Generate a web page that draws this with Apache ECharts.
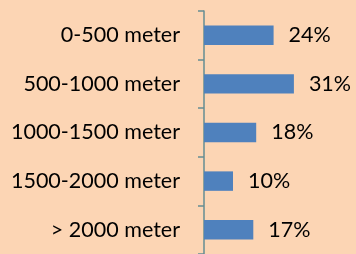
<!DOCTYPE html>
<html>
<head>
<meta charset="utf-8">
<script src="https://cdn.jsdelivr.net/npm/echarts@6/dist/echarts.min.js"></script>
<style>
  html, body { margin: 0; padding: 0; background: #FCD5B4; }
  #chart { width: 356px; height: 254px; }
</style>
</head>
<body>
<div id="chart"></div>
<script>
const categories = ['0-500 meter', '500-1000 meter', '1000-1500 meter', '1500-2000 meter', '> 2000 meter'];
const shares = [24, 31, 18, 10, 17];

// 基于准备好的dom，初始化echarts实例
const myChart = echarts.init(document.getElementById('chart'));
const textFont = 'Lato';

myChart.setOption({
    backgroundColor: '#FCD5B4',
    animation: false,
    grid: { left: 204, top: 11, height: 248, right: 7 },
    xAxis: {
        type: 'value',
        min: 0,
        max: 50,
        show: false
    },
    yAxis: {
        type: 'category',
        inverse: true,
        data: categories,
        axisLine: { lineStyle: { color: '#658D93', width: 1.5 } },
        axisTick: { show: true, length: 6, lineStyle: { color: '#658D93', width: 1.5 } },
        axisLabel: { margin: 24, color: '#000', fontSize: 21.5, fontFamily: textFont }
    },
    series: [{
        type: 'bar',
        data: shares,
        barCategoryGap: '60%',
        itemStyle: { color: '#4F81BD' },
        label: {
            show: true,
            position: 'right',
            distance: 15,
            formatter: '{c}%',
            color: '#000',
            fontSize: 21.5,
            fontFamily: textFont
        }
    }]
});
</script>
</body>
</html>
